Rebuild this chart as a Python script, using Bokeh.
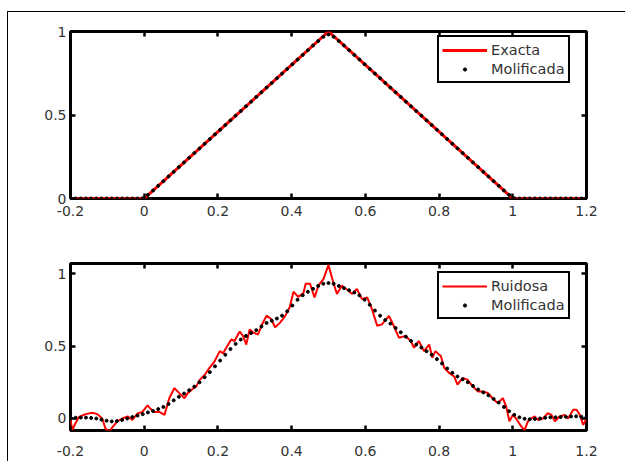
from bokeh.plotting import figure
from bokeh.models import Range1d, LinearAxis, FixedTicker, Legend, LegendItem
from bokeh.layouts import column
from bokeh.embed import file_html
from bokeh.resources import INLINE

# ---------------- data ----------------
x_ticks = [-0.2, 0.0, 0.2, 0.4, 0.6, 0.8, 1.0, 1.2]
x_tick_labels = ["-0.2", "0", "0.2", "0.4", "0.6", "0.8", "1", "1.2"]
y_ticks = [0.0, 0.5, 1.0]
y_tick_labels = ["0", "0.5", "1"]

# exact triangle (vertices)
exact_x = [-0.2, 0.0, 0.5, 1.0, 1.2]
exact_y = [0.0, 0.0, 1.0, 0.0, 0.0]

# sample grid of the mollified functions
grid_x = [-0.200, -0.186, -0.172, -0.158, -0.144, -0.130, -0.116, -0.102, -0.088, -0.074,
          -0.060, -0.046, -0.032, -0.018, -0.004, 0.010, 0.024, 0.038, 0.052, 0.066,
          0.080, 0.094, 0.108, 0.122, 0.136, 0.150, 0.164, 0.178, 0.192, 0.206,
          0.220, 0.234, 0.248, 0.262, 0.276, 0.290, 0.304, 0.318, 0.332, 0.346,
          0.360, 0.374, 0.388, 0.402, 0.416, 0.430, 0.444, 0.458, 0.472, 0.486,
          0.500, 0.514, 0.528, 0.542, 0.556, 0.570, 0.584, 0.598, 0.612, 0.626,
          0.640, 0.654, 0.668, 0.682, 0.696, 0.710, 0.724, 0.738, 0.752, 0.766,
          0.780, 0.794, 0.808, 0.822, 0.836, 0.850, 0.864, 0.878, 0.892, 0.906,
          0.920, 0.934, 0.948, 0.962, 0.976, 0.990, 1.004, 1.018, 1.032, 1.046,
          1.060, 1.074, 1.088, 1.102, 1.116, 1.130, 1.144, 1.158, 1.172, 1.186, 1.200]

moll_top = [0, 0, 0, 0, 0, 0, 0, 0, 0, 0,
            0, 0, 0, 0, 0.002, 0.022, 0.048, 0.076, 0.104, 0.132,
            0.160, 0.188, 0.216, 0.244, 0.272, 0.300, 0.328, 0.356, 0.384, 0.412,
            0.440, 0.468, 0.496, 0.524, 0.552, 0.580, 0.608, 0.636, 0.664, 0.692,
            0.720, 0.748, 0.776, 0.804, 0.832, 0.860, 0.888, 0.916, 0.943, 0.968,
            0.982, 0.968, 0.943, 0.916, 0.888, 0.860, 0.832, 0.804, 0.776, 0.748,
            0.720, 0.692, 0.664, 0.636, 0.608, 0.580, 0.552, 0.524, 0.496, 0.468,
            0.440, 0.412, 0.384, 0.356, 0.328, 0.300, 0.272, 0.244, 0.216, 0.188,
            0.160, 0.132, 0.104, 0.076, 0.048, 0.022, 0.002, 0, 0, 0,
            0, 0, 0, 0, 0, 0, 0, 0, 0, 0, 0]

moll_noisy = [0.005, 0.005, 0.006, 0.006, 0.004, 0.0, -0.008, -0.015, -0.020, -0.018,
              -0.010, 0.0, 0.010, 0.020, 0.030, 0.042, 0.052, 0.065, 0.080, 0.100,
              0.125, 0.150, 0.172, 0.195, 0.220, 0.250, 0.285, 0.320, 0.360, 0.400,
              0.440, 0.480, 0.515, 0.545, 0.570, 0.590, 0.610, 0.635, 0.660, 0.675,
              0.690, 0.710, 0.740, 0.780, 0.820, 0.850, 0.875, 0.895, 0.915, 0.930,
              0.935, 0.930, 0.915, 0.900, 0.885, 0.870, 0.850, 0.820, 0.785, 0.745,
              0.710, 0.680, 0.655, 0.625, 0.595, 0.565, 0.535, 0.510, 0.490, 0.465,
              0.440, 0.410, 0.380, 0.345, 0.315, 0.290, 0.270, 0.250, 0.225, 0.200,
              0.180, 0.160, 0.135, 0.110, 0.080, 0.050, 0.025, 0.008, -0.002, -0.005,
              -0.003, 0.0, 0.005, 0.008, 0.008, 0.010, 0.012, 0.014, 0.015, 0.012, 0.010]

noisy_x = [-0.200, -0.195, -0.188, -0.177, -0.159, -0.141, -0.127, -0.114, -0.105, -0.095,
           -0.086, -0.073, -0.059, -0.045, -0.032, -0.018, -0.005, 0.009, 0.018, 0.027,
           0.041, 0.055, 0.068, 0.082, 0.095, 0.109, 0.118, 0.132, 0.141, 0.150,
           0.164, 0.177, 0.191, 0.205, 0.214, 0.223, 0.236, 0.245, 0.259, 0.268,
           0.277, 0.286, 0.295, 0.309, 0.318, 0.332, 0.345, 0.355, 0.368, 0.382,
           0.395, 0.405, 0.418, 0.432, 0.438, 0.450, 0.462, 0.473, 0.486, 0.500,
           0.514, 0.523, 0.536, 0.550, 0.564, 0.577, 0.591, 0.605, 0.618, 0.632,
           0.645, 0.664, 0.677, 0.691, 0.709, 0.723, 0.732, 0.745, 0.759, 0.773,
           0.782, 0.790, 0.805, 0.814, 0.827, 0.841, 0.850, 0.864, 0.877, 0.891,
           0.905, 0.918, 0.932, 0.945, 0.959, 0.973, 0.982, 0.991, 1.000, 1.009,
           1.023, 1.032, 1.041, 1.050, 1.059, 1.068, 1.082, 1.095, 1.105, 1.114,
           1.127, 1.141, 1.150, 1.164, 1.173, 1.182, 1.191, 1.200]
noisy_y = [-0.010, -0.080, -0.040, 0.010, 0.030, 0.040, 0.030, 0.000, -0.070, -0.090,
           -0.060, -0.020, 0.000, 0.015, -0.010, 0.035, 0.045, 0.090, 0.065, 0.045,
           0.045, 0.025, 0.140, 0.210, 0.175, 0.140, 0.175, 0.205, 0.220, 0.265,
           0.300, 0.350, 0.395, 0.465, 0.450, 0.490, 0.545, 0.535, 0.600, 0.570,
           0.510, 0.615, 0.595, 0.580, 0.640, 0.710, 0.685, 0.630, 0.660, 0.705,
           0.770, 0.875, 0.840, 0.865, 0.930, 0.930, 0.835, 0.920, 0.960, 1.060,
           0.930, 0.860, 0.917, 0.890, 0.860, 0.894, 0.824, 0.836, 0.755, 0.640,
           0.650, 0.708, 0.640, 0.558, 0.570, 0.535, 0.488, 0.535, 0.465, 0.510,
           0.420, 0.465, 0.430, 0.350, 0.315, 0.290, 0.234, 0.280, 0.268, 0.222,
           0.187, 0.187, 0.176, 0.140, 0.106, 0.140, 0.083, -0.020, 0.025, 0.000,
           -0.055, -0.080, -0.020, 0.000, 0.014, -0.010, 0.000, 0.037, 0.025, -0.020,
           0.014, 0.025, 0.000, 0.060, 0.060, 0.025, -0.044, 0.000]

# ---------------- styling helpers ----------------
FONT = "DejaVu Sans"
LABEL_COLOR = "#333333"
RED = "#ff0000"


def add_axes(p, x_standoff):
    xover = dict(zip(x_ticks, x_tick_labels))
    yover = dict(zip(y_ticks, y_tick_labels))
    for loc in ["below", "left", "above", "right"]:
        horizontal = loc in ("below", "above")
        ax = LinearAxis(ticker=FixedTicker(ticks=x_ticks if horizontal else y_ticks))
        ax.major_label_overrides = xover if horizontal else yover
        ax.axis_line_color = None
        ax.major_tick_in = 5
        ax.major_tick_out = 0
        ax.major_tick_line_width = 2.5
        ax.major_tick_line_color = "black"
        ax.minor_tick_line_color = None
        ax.major_label_text_font = FONT
        if loc in ("above", "right"):
            # tick marks only, labels not drawn
            ax.major_label_text_color = None
            ax.major_label_text_font_size = "1px"
            ax.major_label_standoff = 0
        else:
            ax.major_label_text_color = LABEL_COLOR
            ax.major_label_text_font_size = "14px"
            ax.major_label_standoff = x_standoff if loc == "below" else 4
        p.add_layout(ax, loc)


def make_fig(height, ylo, yhi, btop, bbot, x_standoff):
    p = figure(width=617, height=height,
               x_range=Range1d(-0.2, 1.2), y_range=Range1d(ylo, yhi),
               output_backend="svg", toolbar_location=None,
               x_axis_location=None, y_axis_location=None,
               min_border_left=62, min_border_right=39,
               min_border_top=btop, min_border_bottom=bbot)
    p.grid.grid_line_color = None
    p.outline_line_color = "black"
    p.outline_line_width = 3
    p.outline_line_alpha = 1
    p.background_fill_color = "white"
    p.border_fill_color = "white"
    add_axes(p, x_standoff)
    return p


def make_legend(items, loc):
    lg = Legend(items=items, location=loc)
    lg.border_line_color = "black"
    lg.border_line_width = 2.5
    lg.border_line_alpha = 1
    lg.background_fill_color = "white"
    lg.background_fill_alpha = 1
    lg.padding = 3
    lg.spacing = 0
    lg.margin = 0
    lg.glyph_width = 45
    lg.glyph_height = 8
    lg.label_height = 19
    lg.label_standoff = 4
    lg.label_text_font = FONT
    lg.label_text_font_size = "14.5px"
    lg.label_text_color = LABEL_COLOR
    return lg


# ---------------- top plot ----------------
p1 = make_fig(228, 0.0, 1.0, 19, 42, 7)
r1 = p1.line(exact_x, exact_y, line_color=RED, line_width=3)
d1 = p1.scatter(grid_x, moll_top, size=3, color="black")
p1.add_layout(make_legend([LegendItem(label="Exacta", renderers=[r1]),
                           LegendItem(label="Molificada", renderers=[d1])], (367, 115)))

# ---------------- bottom plot ----------------
p2 = make_fig(221, -0.083, 1.07, 23, 31, 15)
r2 = p2.line(noisy_x, noisy_y, line_color=RED, line_width=2)
d2 = p2.scatter(grid_x, moll_noisy, size=3, color="black")
p2.add_layout(make_legend([LegendItem(label="Ruidosa", renderers=[r2]),
                           LegendItem(label="Molificada", renderers=[d2])], (367, 111)))

layout = column(p1, p2, margin=(11, 0, 0, 7),
                styles={"border-left": "1px solid black", "border-top": "1px solid black"})

open("out.html", "w").write(file_html(layout, INLINE))
